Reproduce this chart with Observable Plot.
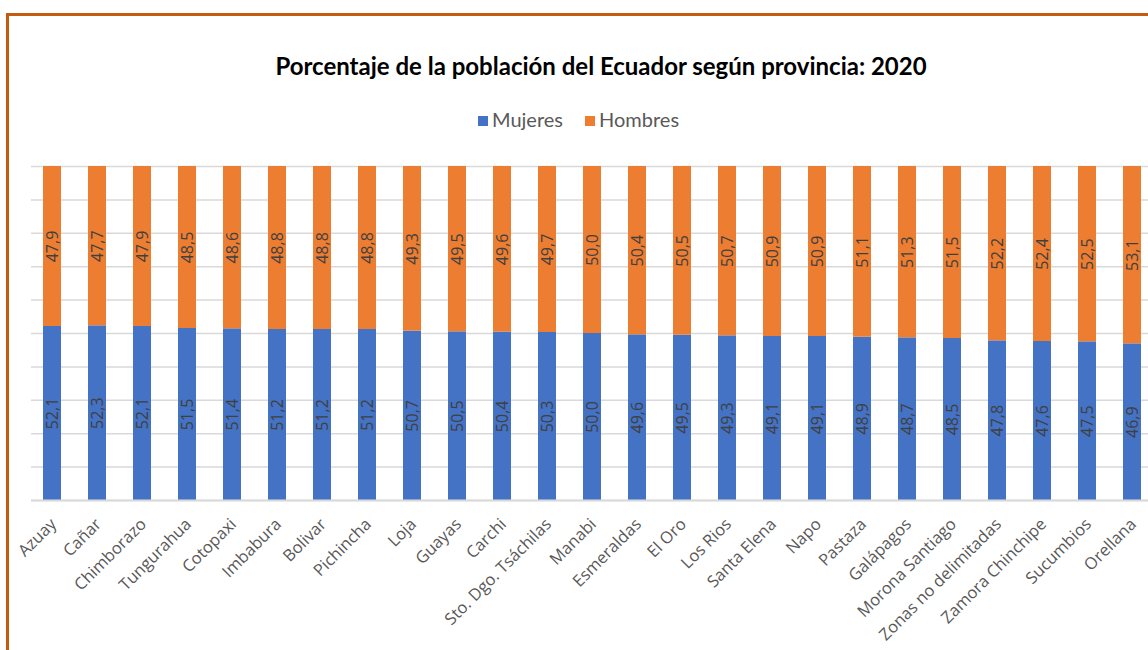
<!DOCTYPE html>
<html><head><meta charset="utf-8">
<script src="https://cdn.jsdelivr.net/npm/d3@7"></script>
<script src="https://cdn.jsdelivr.net/npm/@observablehq/plot@0.6"></script>
<style>
body{margin:0;background:#fff;overflow:hidden;}
#wrap{position:relative;width:1148px;height:650px;overflow:hidden;font-family:Lato,"Open Sans",sans-serif;background:#fff;}
#frame{position:absolute;left:6px;top:13px;width:1300px;height:800px;border-left:3px solid #C55A11;border-top:3px solid #C55A11;box-sizing:border-box;}
#title{position:absolute;left:0;width:1202px;top:51px;text-align:center;font-weight:bold;font-size:24px;line-height:30px;color:#000;}
#legend{position:absolute;left:478px;top:106px;font-size:20px;line-height:26px;color:#595959;white-space:nowrap;}
#legend span.sw{display:inline-block;width:10px;height:10px;margin-right:4px;vertical-align:1px;}
#legend span.item{margin-right:22px;}
#chart{position:absolute;left:0;top:0;}
</style>
</head><body>
<div id="wrap">
  <div id="frame"></div>
  <div id="title"></div>
  <div id="legend"></div>
  <div id="chart"></div>
</div>
<script>
const titulo = "Porcentaje de la población del Ecuador según provincia: 2020";
const provincias = ["Azuay","Cañar","Chimborazo","Tungurahua","Cotopaxi","Imbabura","Bolivar","Pichincha","Loja","Guayas","Carchi","Sto. Dgo. Tsáchilas","Manabi","Esmeraldas","El Oro","Los Rios","Santa Elena","Napo","Pastaza","Galápagos","Morona Santiago","Zonas no delimitadas","Zamora Chinchipe","Sucumbios","Orellana"];
const mujeres = [52.1,52.3,52.1,51.5,51.4,51.2,51.2,51.2,50.7,50.5,50.4,50.3,50.0,49.6,49.5,49.3,49.1,49.1,48.9,48.7,48.5,47.8,47.6,47.5,46.9];
const hombres = [47.9,47.7,47.9,48.5,48.6,48.8,48.8,48.8,49.3,49.5,49.6,49.7,50.0,50.4,50.5,50.7,50.9,50.9,51.1,51.3,51.5,52.2,52.4,52.5,53.1];
const series = ["Mujeres","Hombres"];
const colores = ["#4472C4","#ED7D31"];
const yTicks = [0,10,20,30,40,50,60,70,80,90,100];

document.getElementById("title").textContent = titulo;
const leg = document.getElementById("legend");
series.forEach((s,i)=>{
  const it = document.createElement("span"); it.className="item";
  const sw = document.createElement("span"); sw.className="sw"; sw.style.background=colores[i];
  it.appendChild(sw); it.appendChild(document.createTextNode(s));
  leg.appendChild(it);
});

const rows = [];
provincias.forEach((p,i)=>{
  rows.push({provincia:p, sexo:series[0], y1:0, y2:mujeres[i], v:mujeres[i]});
  rows.push({provincia:p, sexo:series[1], y1:mujeres[i], y2:mujeres[i]+hombres[i], v:hombres[i]});
});
const fmt = v => v.toFixed(1).replace(".", ",");

const chart = Plot.plot({
  width: 1148,
  height: 650,
  marginTop: 166,
  marginBottom: 150,
  marginLeft: 31,
  marginRight: 0,
  style: {fontFamily: "'Open Sans', Lato, sans-serif", background: "transparent", overflow: "visible"},
  x: {domain: provincias, range: [29.5, 1154.5], paddingInner: 0.6, paddingOuter: 0.3, axis: null},
  y: {domain: [0, 100], axis: null},
  color: {domain: series, range: colores},
  marks: [
    Plot.gridY(yTicks, {stroke: "#d9d9d9", strokeOpacity: 1, strokeWidth: 1.5}),
    Plot.barY(rows, {x: "provincia", y1: "y1", y2: "y2", fill: "sexo"}),
    Plot.ruleY([0], {stroke: "#d9d9d9", strokeWidth: 2}),
    Plot.text(rows, {x: "provincia", y: d => (d.y1 + d.y2) / 2, text: d => fmt(d.v), rotate: -90, fill: "#404040", fontSize: 16}),
    Plot.text(provincias, {x: d => d, y: () => 0, text: d => d, rotate: -45, textAnchor: "end", dx: 1, dy: 21, fill: "#595959", fontSize: 16.5})
  ]
});
document.getElementById("chart").appendChild(chart);
</script>
</body></html>
